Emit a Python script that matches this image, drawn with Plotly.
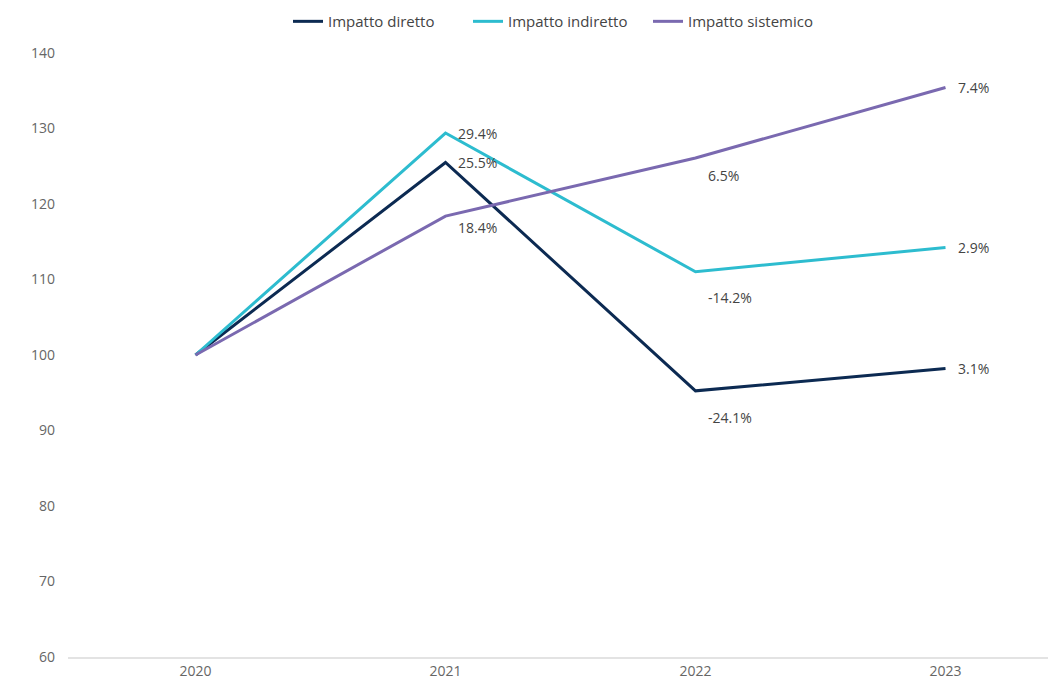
import plotly.graph_objects as go

years = ["2020", "2021", "2022", "2023"]
series_names = ["Impatto diretto", "Impatto indiretto", "Impatto sistemico"]
# Year-on-year changes (%) for each series, base 2020 = 100
chg_diretto = [25.5, -24.1, 3.1]
chg_indiretto = [29.4, -14.2, 2.9]
chg_sistemico = [18.4, 6.5, 7.4]
colors = ["#0c2a52", "#2dbccf", "#7a69b0"]
# vertical offsets of the change labels (px), per series and year
label_shift = [[0, -27, 0], [0, -26, 0], [-11, -18, 0]]

def index_path(changes):
    vals = [100.0]
    for c in changes:
        vals.append(vals[-1] * (1 + c / 100))
    return vals

FONT = "Open Sans, Inter, sans-serif"

fig = go.Figure()
for name, chg, col, shifts in zip(series_names,
                                  [chg_diretto, chg_indiretto, chg_sistemico],
                                  colors, label_shift):
    vals = index_path(chg)
    fig.add_trace(go.Scatter(x=years, y=vals, mode="lines", name=name,
                             line=dict(color=col, width=3)))
    for i, (v, c, s) in enumerate(zip(vals[1:], chg, shifts), start=1):
        fig.add_annotation(x=i, y=v, xref="x", yref="y", text=f"{c:.1f}%",
                           showarrow=False, xanchor="left", yanchor="middle",
                           xshift=10, yshift=s,
                           font=dict(family=FONT, size=14, color="#444444"))

fig.update_layout(
    width=1048, height=684,
    margin=dict(l=68, r=0, t=53, b=27),
    plot_bgcolor="white", paper_bgcolor="white",
    font=dict(family=FONT, color="#666666", size=13),
    showlegend=True,
    legend=dict(orientation="h", x=0.5, xanchor="center", y=1.052, yanchor="middle",
                font=dict(family=FONT, size=15, color="#444444"), itemwidth=30,
                traceorder="normal", entrywidth=135),
)
fig.update_xaxes(type="category", range=[-0.51, 3.41], showgrid=False,
                 showline=True, linecolor="#e3e3e3", linewidth=2,
                 ticks="", tickfont=dict(size=14, color="#666666"))
fig.update_yaxes(range=[60, 140], dtick=10, showgrid=False, zeroline=False,
                 ticks="", ticklabelstandoff=12, tickfont=dict(size=14, color="#666666"))

fig.write_html("out.html")
